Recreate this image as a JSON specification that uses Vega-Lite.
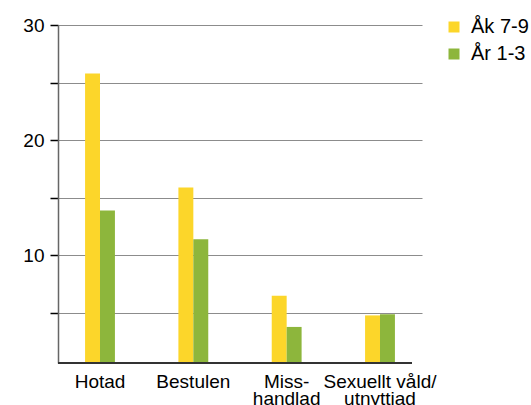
{
  "$schema": "https://vega.github.io/schema/vega-lite/v6.json",
  "autosize": "none",
  "width": 354,
  "height": 338,
  "padding": {"left": 58, "top": 25, "right": 119, "bottom": 42},
  "background": "white",
  "config": {
    "view": {"stroke": null},
    "font": "Liberation Sans"
  },
  "data": {
    "values": [
      {"kategori": "Hotad", "grupp": "Åk 7-9", "andel": 25.8},
      {"kategori": "Hotad", "grupp": "År 1-3", "andel": 13.9},
      {"kategori": "Bestulen", "grupp": "Åk 7-9", "andel": 15.9},
      {"kategori": "Bestulen", "grupp": "År 1-3", "andel": 11.4},
      {"kategori": "Miss-\nhandlad", "grupp": "Åk 7-9", "andel": 6.5},
      {"kategori": "Miss-\nhandlad", "grupp": "År 1-3", "andel": 3.8},
      {"kategori": "Sexuellt våld/\nutnyttjad", "grupp": "Åk 7-9", "andel": 4.8},
      {"kategori": "Sexuellt våld/\nutnyttjad", "grupp": "År 1-3", "andel": 4.9}
    ]
  },
  "layer": [
    {
      "mark": {"type": "bar", "clip": true},
      "encoding": {
        "x": {
          "field": "kategori",
          "type": "nominal",
          "sort": null,
          "title": null,
          "scale": {"paddingInner": 0.68, "paddingOuter": 0.29, "range": [0, 364]},
          "axis": {
            "labelAngle": 0,
            "labelFontSize": 19,
            "labelColor": "#000000",
            "labelPadding": 9,
            "labelLineHeight": 17,
            "labelExpr": "split(datum.label, '\\n')",
            "ticks": false,
            "domain": false,
            "grid": false
          }
        },
        "xOffset": {
          "field": "grupp",
          "type": "nominal",
          "sort": ["Åk 7-9", "År 1-3"],
          "scale": {"paddingInner": 0, "paddingOuter": 0}
        },
        "y": {
          "field": "andel",
          "type": "quantitative",
          "title": null,
          "scale": {"domain": [0.67, 30], "nice": false, "zero": false},
          "axis": {
            "values": [5, 10, 15, 20, 25, 30],
            "labelExpr": "datum.value % 10 == 0 ? datum.label : ''",
            "labelFontSize": 19,
            "labelColor": "#000000",
            "labelPadding": 6,
            "tickSize": 8,
            "tickColor": "#000000",
            "tickWidth": 1.5,
            "domainColor": "#666666",
            "domainWidth": 1.5,
            "grid": true,
            "gridColor": "#8c8c8c",
            "gridWidth": 1
          }
        },
        "color": {
          "field": "grupp",
          "type": "nominal",
          "sort": ["Åk 7-9", "År 1-3"],
          "scale": {"domain": ["Åk 7-9", "År 1-3"], "range": ["#FCD62A", "#8DB63C"]},
          "legend": {
            "title": null,
            "orient": "none",
            "legendX": 386,
            "legendY": -8,
            "symbolType": "square",
            "symbolSize": 121,
            "symbolStrokeWidth": 0,
            "symbolOpacity": 1,
            "labelFontSize": 20,
            "labelColor": "#000000",
            "labelOffset": 7,
            "rowPadding": 7
          }
        }
      }
    },
    {
      "mark": {"type": "rule", "color": "#333333", "strokeWidth": 2},
      "encoding": {
        "y": {"datum": 0.67, "type": "quantitative"}
      }
    }
  ]
}
